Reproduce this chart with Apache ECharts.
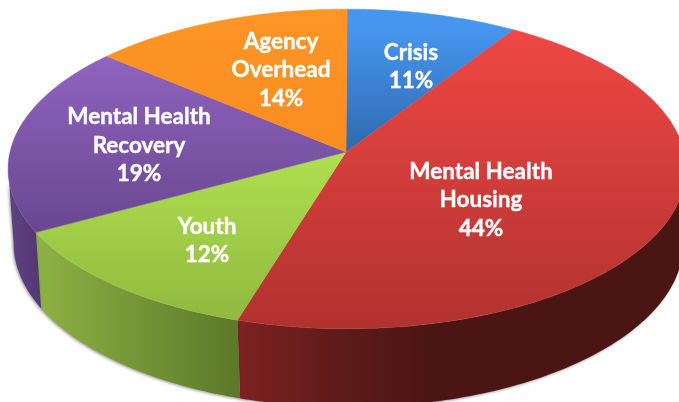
<!DOCTYPE html>
<html><head><meta charset="utf-8">
<style>html,body{margin:0;padding:0;background:#fff}#c{width:679px;height:402px}</style>
<script src="https://cdn.jsdelivr.net/npm/echarts@6/dist/echarts.min.js"></script>
</head><body><div id="c"></div>
<script>
const categories = ['Crisis', 'Mental Health\nHousing', 'Youth', 'Mental Health\nRecovery', 'Agency\nOverhead'];
const values = [11, 44, 12, 19, 14];

// styling and view, kept apart from the data
const topStops = [
  [[30, '#4695ee'], [150, '#2e6aae']],
  [[30, '#ef4744'], [325, '#b23230']],
  [[150, '#b0e04f'], [325, '#8fb83f']],
  [[55, '#9064c0'], [230, '#694790']],
  [[10, '#ff9427'], [150, '#f98d20']]
];
const wallStops = [
  [[340, '#2e6aae'], [680, '#2e6aae']],
  [[238, '#7c2222'], [340, '#5e1b19'], [430, '#4a1513'], [679, '#4b1512']],
  [[35, '#8fb244'], [238, '#5c7829']],
  [[10, '#5f4284'], [40, '#533872']],
  [[100, '#c9761a'], [340, '#c9761a']]
];
const labelAnchor = [[411, 66.5], [481, 200], [207, 240.5], [139, 145.5], [281, 70]];
const topFace = { cx: 347, cy: 152, a: 337, b: 158 };
const baseFace = { cx: 348.5, cy: 226, a: 333, b: 162 };
const perspective = 0.106;
const D = Math.PI / 180;
const wallFrom = 101 * D, wallTo = 264 * D; // only this stretch of rim faces the viewer
const total = values.reduce((s, v) => s + v, 0);
const starts = values.map((_, i) => values.slice(0, i).reduce((s, v) => s + v, 0));

function viewAngle(t) { // the photographed view is not a perfect projection of the disc
  const near = -6.2 * D * Math.max(0, Math.sin(t)) * (1 + Math.cos(t));
  const front = -1.0 * D * Math.exp(-Math.pow((t - 198 * D) / (25 * D), 2));
  const back = 0.8 * D * Math.exp(-Math.pow((t - 310 * D) / (25 * D), 2));
  return t + near + front + back;
}
function rim(face, t) {
  const v = viewAngle(t), X = Math.sin(v), Y = Math.cos(v), w = 1 + perspective * Y;
  return [face.cx + face.a * X / w, face.cy - face.b * Y / w];
}
function arc(face, t0, t1) {
  const n = Math.max(2, Math.ceil((t1 - t0) / D));
  const pts = [];
  for (let k = 0; k <= n; k++) pts.push(rim(face, t0 + (t1 - t0) * k / n));
  return pts;
}
function grad(stops, horizontal) {
  const p0 = stops[0][0], p1 = stops[stops.length - 1][0];
  const cs = stops.map(s => ({ offset: (s[0] - p0) / (p1 - p0), color: s[1] }));
  return horizontal
    ? new echarts.graphic.LinearGradient(p0, 0, p1, 0, cs, true)
    : new echarts.graphic.LinearGradient(0, p0, 0, p1, cs, true);
}
function range(params, api) {
  const i = params.dataIndex, v = api.value(0);
  const t0 = starts[i] / total * 2 * Math.PI;
  return [t0, t0 + v / total * 2 * Math.PI, i];
}
function renderWall(params, api) {
  const [a, b, i] = range(params, api);
  const t0 = Math.max(a, wallFrom), t1 = Math.min(b, wallTo);
  if (t1 <= t0) return null;
  const pts = arc(topFace, t0, t1).concat(arc(baseFace, t0, t1).reverse());
  return { type: 'polygon', shape: { points: pts },
    style: { fill: grad(wallStops[i], true), shadowBlur: 3, shadowOffsetY: 1, shadowOffsetX: -1, shadowColor: 'rgba(0,0,0,0.4)' } };
}
function renderTop(params, api) {
  const [t0, t1, i] = range(params, api);
  const pts = [[topFace.cx - 1, topFace.cy]].concat(arc(topFace, t0, t1));
  return { type: 'polygon', shape: { points: pts },
    style: { fill: grad(topStops[i], false), stroke: grad(topStops[i], false), lineWidth: 0.5 } };
}
function renderLabel(params, api) {
  const i = params.dataIndex, pct = Math.round(api.value(0) / total * 100);
  return { type: 'text', x: labelAnchor[i][0], y: labelAnchor[i][1],
    style: { text: categories[i] + '\n' + pct + '%', fill: '#fff', stroke: '#fff', lineWidth: 0.4, align: 'center', verticalAlign: 'middle',
      font: 'bold 22.5px Lato', lineHeight: 28.5 } };
}
const rows = values.map((v, i) => ({ name: categories[i], value: [v] }));
const chart = echarts.init(document.getElementById('c'), null, { renderer: 'canvas' });
chart.setOption({
  animation: false,
  backgroundColor: '#fff',
  series: [
    { type: 'custom', coordinateSystem: 'none', z: 1, silent: true, renderItem: renderWall, data: rows },
    { type: 'custom', coordinateSystem: 'none', z: 2, silent: true, renderItem: renderTop, data: rows },
    { type: 'custom', coordinateSystem: 'none', z: 3, silent: true, renderItem: renderLabel, data: rows }
  ]
});
</script></body></html>
